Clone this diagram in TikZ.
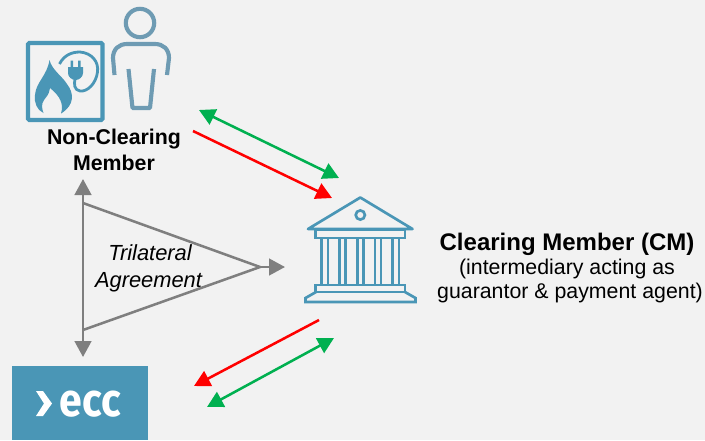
\documentclass[tikz,border=0pt]{standalone}
\usepackage{fontspec}
\setmainfont{Liberation Sans}
\newfontfamily\eccfont{Fira Sans}
\usetikzlibrary{arrows.meta}
\definecolor{bgc}{HTML}{F2F2F2}
\definecolor{teal}{HTML}{4A96B6}
\definecolor{persona}{HTML}{6E9BB3}
\definecolor{greyl}{HTML}{7F7F7F}
\definecolor{greena}{HTML}{00B050}
\definecolor{reda}{HTML}{FF0000}
\tikzset{
  flow/.style={line width=1.9pt},
  greenflow/.style={flow,draw=greena,{Triangle[length=12pt,width=12.5pt]}-{Triangle[length=12pt,width=12.5pt]}},
  redflow/.style={flow,draw=reda,-{Triangle[length=12pt,width=12.5pt]}},
  greyline/.style={line width=1.9pt,draw=greyl},
  greytip/.style={greyline,-{Triangle[length=12pt,width=12.5pt]}},
  label16/.style={font=\fontsize{16}{19.5}\selectfont,align=center,text=black,inner sep=0pt},
  tril/.style={label16,anchor=base,font=\fontsize{16.4}{19.5}\selectfont\itshape},
  bank/.style={draw=teal,line width=2pt,line join=miter},
  personline/.style={draw=persona,line width=3.1pt,line join=round}
}
\begin{document}
\begin{tikzpicture}[x=0.75pt,y=-0.75pt]
\useasboundingbox (0,0) rectangle (705,440);
\fill[bgc] (0,0) rectangle (705,440);
% ---- non-clearing member icons
\draw[teal,line width=3.2pt,rounded corners=1pt] (28,43) rectangle (102.5,120);
\draw[personline] (140,23) circle (14.2);
\draw[personline] (114.5,75) -- (113,58) .. controls (113,49) and (119,44) .. (127,44) -- (155,44) .. controls (163,44) and (169,49) .. (169,58) -- (167,75);
\draw[personline] (128.5,69) -- (132.5,108) -- (150,108) -- (154,69);
% flame
\fill[teal] (49.5,60) .. controls (52,70) and (62,76) .. (67,84) .. controls (74,93) and (75,105) .. (61,113.5)
  .. controls (64,104) and (60,96) .. (50,88) .. controls (49,95) and (46,97) .. (44,100)
  .. controls (41,104) and (42,109) .. (43.5,113) .. controls (37,110) and (34,103) .. (35,95)
  .. controls (36,82) and (47,76) .. (49.5,60) -- cycle;
% plug and wire
\draw[teal,line width=2.1pt] (59.5,64) .. controls (64,55) and (72,52) .. (80,52) .. controls (92,53) and (99,62) .. (97.5,72) .. controls (96,84) and (87,92) .. (80,91) .. controls (74,90) and (74,84) .. (75,79);
\fill[teal] (68,67) -- (83,67) -- (83,73) .. controls (83,77) and (79,80) .. (75.5,80) .. controls (72,80) and (68,77) .. (68,73) -- cycle;
\fill[teal] (70.5,60.5) rectangle (73,67) (78,60.5) rectangle (80.5,67);
% ---- bank
\draw[bank,line join=round] (360.3,197.5) -- (412.5,229) -- (308,229) -- cycle;
\draw[bank] (360.3,215) circle (4.6);
\draw[bank] (315.5,230) rectangle (405,238);
\foreach \cx in {321.7,328,339.5,345.6,357.2,363.3,375,381,392.7,399}{
  \draw[bank] (\cx,238) -- (\cx,285);
}
\draw[bank] (315.5,285) rectangle (405,292);
\draw[bank] (316,292) -- (305.5,298) -- (305.5,302) -- (415.5,302) -- (415.5,298) -- (405,292);
% ---- ecc logo
\node[fill=teal,minimum width=102pt,minimum height=55.5pt,inner sep=0pt,anchor=north west] (ecc) at (12,366) {};
\fill[white] (36,391) -- (43,391) -- (52,403.5) -- (43,416) -- (36,416) -- (44,403.5) -- cycle;
\node[anchor=base west,inner sep=0pt,text=white,font=\eccfont\bfseries\fontsize{35}{36}\selectfont,xscale=0.88] (ecctext) at (59.5,416) {ecc};
% ---- labels
\node[label16,font=\fontsize{16}{19.5}\selectfont\bfseries] (ncm) at (114,150) {Non-Clearing\\Member};
\node[label16,anchor=base] (cm) at (567,250) {\fontsize{18}{18}\selectfont\bfseries Clearing Member (CM)};
\node[label16,anchor=base] (cm2) at (567,274) {(intermediary acting as};
\node[label16,anchor=base] (cm3) at (570,298) {guarantor \& payment agent)};
\node[tril] (tri1) at (150,260) {Trilateral};
\node[tril] (tri2) at (148.5,287) {Agreement};
% ---- connector ends
\coordinate (ga) at (199,110);
\coordinate (gb) at (339,178);
\coordinate (ra) at (193,131);
\coordinate (rb) at (332,198);
\coordinate (rc) at (319,320);
\coordinate (rd) at (194,386);
\coordinate (gc) at (334,338);
\coordinate (gd) at (207,407);
\coordinate (vt) at (83,179);
\coordinate (vb) at (83,357);
\coordinate (tt) at (83,203);
\coordinate (tb) at (83,330);
\coordinate (apex) at (260,267);
\coordinate (tipr) at (285,267);
% ---- connectors
\draw[greenflow] (ga) -- (gb);
\draw[redflow] (ra) -- (rb);
\draw[redflow] (rc) -- (rd);
\draw[greenflow] (gc) -- (gd);
\draw[greyline,{Triangle[length=12pt,width=12.5pt]}-{Triangle[length=12pt,width=12.5pt]}] (vt) -- (vb);
\draw[greyline] (tt) -- (apex) -- (tb);
\draw[greytip] (apex) -- (tipr);
\end{tikzpicture}
\end{document}
